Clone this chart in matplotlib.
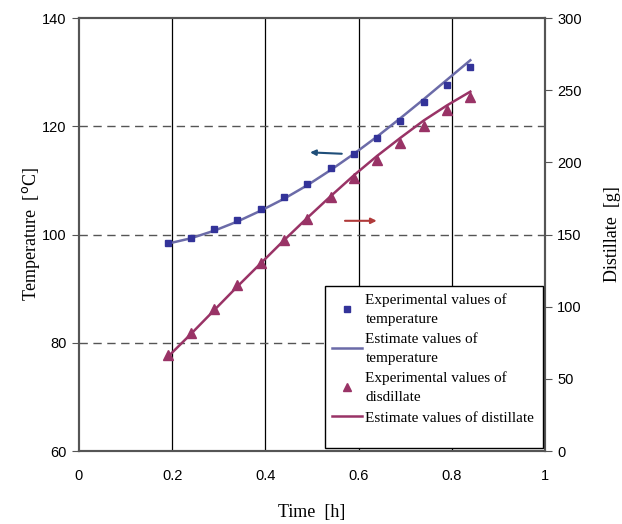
import matplotlib
matplotlib.use("Agg")
import matplotlib.pyplot as plt
from matplotlib.patches import Rectangle

time_h = [0.19, 0.24, 0.29, 0.34, 0.39, 0.44, 0.49, 0.54, 0.59, 0.64, 0.69, 0.74, 0.79, 0.84]
temp_exp = [98.5, 99.4, 101.0, 102.7, 104.7, 107.0, 109.3, 112.2, 114.9, 117.9, 121.0, 124.5, 127.7, 131.0]
temp_est = [98.3, 99.3, 100.7, 102.4, 104.4, 106.6, 109.1, 111.9, 114.9, 118.1, 121.5, 125.0, 128.6, 132.2]
dist_exp = [66.5, 82.0, 98.2, 115.0, 130.5, 146.2, 160.7, 176.2, 188.9, 201.6, 213.6, 225.2, 236.3, 245.5]
dist_est = [65.0, 81.0, 97.5, 114.0, 130.0, 146.0, 161.5, 176.5, 191.0, 204.5, 217.0, 229.0, 239.5, 249.0]

x_ticks = [0, 0.2, 0.4, 0.6, 0.8, 1]
x_ticklabels = ["0", "0.2", "0.4", "0.6", "0.8", "1"]
temp_ticks = [60, 80, 100, 120, 140]
dist_ticks = [0, 50, 100, 150, 200, 250, 300]

serif = ["Liberation Serif", "DejaVu Serif"]
sans = ["Liberation Sans", "DejaVu Sans"]

fig = plt.figure(figsize=(6.22, 5.24), dpi=100)
ax = fig.add_axes([0.127, 0.1393, 0.749, 0.8263])
ax2 = ax.twinx()

ax.set_xlim(0, 1)
ax.set_ylim(60, 140)
ax2.set_ylim(0, 300)

# grid
for xv in x_ticks[1:-1]:
    ax.axvline(xv, color="black", lw=0.9, zorder=1)
for yv in temp_ticks[1:-1]:
    ax.axhline(yv, color="#555555", lw=1.0, ls=(0, (6, 4)), zorder=1)

ln_t_exp, = ax.plot(time_h, temp_exp, ls="none", marker="s", ms=5, color="#333399",
                    zorder=4, label="Experimental values of\ntemperature")
ln_t_est, = ax.plot(time_h, temp_est, color="#6B6BA8", lw=1.8, zorder=3,
                    label="Estimate values of\ntemperature")
ln_d_exp, = ax2.plot(time_h, dist_exp, ls="none", marker="^", ms=7.5, color="#993366",
                     zorder=4, label="Experimental values of\ndisdillate")
ln_d_est, = ax2.plot(time_h, dist_est, color="#993366", lw=1.8, zorder=3,
                     label="Estimate values of distillate")

# arrows
ax.annotate("", xy=(0.49, 115.2), xytext=(0.57, 114.9),
            arrowprops=dict(arrowstyle="-|>", color="#1F4E79", lw=1.5, mutation_scale=8))
ax2.annotate("", xy=(0.645, 159.5), xytext=(0.565, 159.5),
             arrowprops=dict(arrowstyle="-|>", color="#B03A3A", lw=1.5, mutation_scale=8))

ax.set_xticks(x_ticks)
ax.set_xticklabels(x_ticklabels)
ax.set_yticks(temp_ticks)
ax2.set_yticks(dist_ticks)

for a in (ax, ax2):
    for sp in a.spines.values():
        sp.set_color("#555555")
        sp.set_linewidth(1.5)
    for lab in a.get_xticklabels() + a.get_yticklabels():
        lab.set_family(sans)
        lab.set_fontsize(10.5)

ax.tick_params(axis="x", length=0, pad=13)
ax.tick_params(axis="y", direction="out", length=5, color="#555555", pad=4)
ax2.tick_params(axis="y", direction="out", length=5, color="#555555", pad=4)

ax.set_xlabel("Time  [h]", family=serif, fontsize=13, labelpad=15)
ax.set_ylabel("Temperature  [$^{\\rm o}$C]", family=serif, fontsize=13, labelpad=0)
ax2.set_ylabel("Distillate  [g]", family=serif, fontsize=13, labelpad=16)

# legend box (taller than its contents, as in the reference)
box = Rectangle((0.528, 0.007), 0.468, 0.374, transform=ax2.transAxes,
                facecolor="white", edgecolor="black", lw=1.0, zorder=9)
ax2.add_patch(box)

leg = ax2.legend(handles=[ln_t_exp, ln_t_est, ln_d_exp, ln_d_est],
                 loc="upper left", bbox_to_anchor=(0.528, 0.381),
                 prop={"family": serif, "size": 11.0}, frameon=False,
                 borderpad=0.45, labelspacing=0.45,
                 handlelength=2.0, handletextpad=0.2, borderaxespad=0, markerscale=0.75)
leg.set_zorder(10)
for t in leg.get_texts():
    t.set_linespacing(1.6)

fig.savefig("out.png", dpi=100)
